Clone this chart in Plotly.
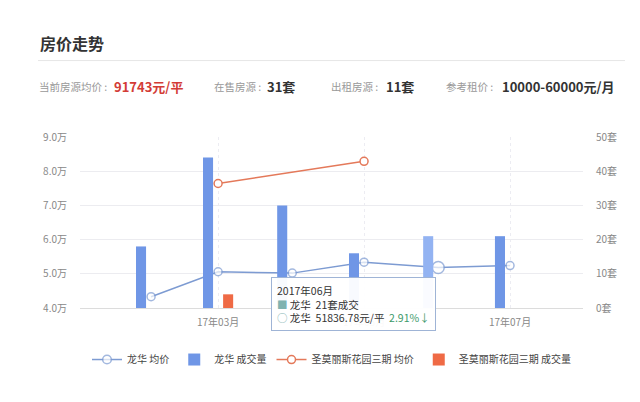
import plotly.graph_objects as go

# ---- data ----
months = ["2017-02-01", "2017-03-01", "2017-04-01", "2017-05-01", "2017-06-01", "2017-07-01"]
lh_price = [43300, 50600, 50200, 53390, 51836.78, 52400]
lh_volume = [18, 44, 30, 16, 21, 21]
sm_months = ["2017-03-01", "2017-05-01"]
sm_price = [76400, 82900]
sm_vol_months = ["2017-03-01"]
sm_volume = [4]

left_tickvals = [40000, 50000, 60000, 70000, 80000, 90000]
left_ticktext = ["4.0万", "5.0万", "6.0万", "7.0万", "8.0万", "9.0万"]
right_tickvals = [0, 10, 20, 30, 40, 50]
right_ticktext = ["0套", "10套", "20套", "30套", "40套", "50套"]
x_tickvals = ["2017-03-01", "2017-05-01", "2017-07-01"]
x_ticktext = ["17年03月", "17年05月", "17年07月"]

FONT = "Noto Sans CJK SC"
OFF = 8  # browser body margin
W, H = 640 - OFF, 402 - OFF
# plot area in screen pixels
L, R, T, B = 80, 583, 136.7, 308.3
PW, PH = R - L, B - T

def px(x):
    return (x - L) / PW

def py(y):
    return (B - y) / PH

DAY = 86400000
fig = go.Figure()

bar_colors = ["#6f96e6"] * len(lh_volume)
bar_colors[4] = "#93b3f2"
fig.add_trace(go.Bar(
    x=months, y=lh_volume, name="龙华 成交量", yaxis="y2",
    marker=dict(color=bar_colors, line=dict(width=0)),
    offset=-6.3 * DAY, width=4.2 * DAY, legendrank=2,
))
fig.add_trace(go.Bar(
    x=sm_vol_months, y=sm_volume, name="圣莫丽斯花园三期 成交量", yaxis="y2",
    marker=dict(color="#ef6a45", line=dict(width=0)),
    offset=2.1 * DAY, width=4.2 * DAY, legendrank=4,
))
sizes = [8] * len(lh_price)
sizes[4] = 12
fig.add_trace(go.Scatter(
    x=months, y=lh_price, name="龙华 均价", mode="lines+markers",
    line=dict(color="#7d9bd2", width=1.5),
    marker=dict(size=sizes, color="white", line=dict(color="#7d9bd2", width=1.5)),
    legendrank=1,
))
fig.add_trace(go.Scatter(
    x=sm_months, y=sm_price, name="圣莫丽斯花园三期 均价", mode="lines+markers",
    line=dict(color="#e4795a", width=1.5),
    marker=dict(size=8, color="white", line=dict(color="#e4795a", width=1.5)),
    legendrank=3,
))

fig.update_layout(
    width=W, height=H,
    margin=dict(l=L - OFF, r=W - (R - OFF), t=T - OFF, b=H - (B - OFF), pad=0),
    paper_bgcolor="white", plot_bgcolor="white",
    font=dict(family=FONT, size=10, color="#888"),
    barmode="overlay",
    xaxis=dict(
        type="date", range=["2017-01-02 07:00", "2017-07-31 12:00"],
        tickvals=x_tickvals, ticktext=x_ticktext,
        showgrid=True, gridcolor="#ececf2", griddash="dot", gridwidth=1,
        showline=True, linecolor="#dcdcdc", ticks="", zeroline=False,
        tickfont=dict(size=10, color="#888"), ticklabelstandoff=5,
    ),
    yaxis=dict(
        range=[40000, 90000], tickvals=left_tickvals, ticktext=left_ticktext,
        showgrid=True, gridcolor="#ececf0", zeroline=False, ticks="",
        tickfont=dict(size=10, color="#888"), ticklabelstandoff=12,
    ),
    yaxis2=dict(
        range=[0, 50], tickvals=right_tickvals, ticktext=right_ticktext,
        overlaying="y", side="right", showgrid=False, zeroline=False, ticks="",
        tickfont=dict(size=10, color="#888"), ticklabelstandoff=12,
    ),
    legend=dict(
        orientation="h", x=0.5, xanchor="center", y=py(360), yanchor="middle",
        font=dict(size=10, color="#444"), itemwidth=30, traceorder="normal",
    ),
    showlegend=True,
)

ann = []
ann.append(dict(x=px(38), y=py(42), text="<b>房价走势</b>", font=dict(size=16, color="#333")))
stats = [
    (37, "当前房源均价 :", "#999", 10.5, False),
    (112, "91743元/平", "#d33c36", 13, True),
    (212, "在售房源 :", "#999", 10.5, False),
    (265, "31套", "#333", 13, True),
    (329, "出租房源 :", "#999", 10.5, False),
    (384, "11套", "#333", 13, True),
    (444, "参考租价 :", "#999", 10.5, False),
    (500, "10000-60000元/月", "#333", 13, True),
]
for x0, t, c, s, b in stats:
    ann.append(dict(x=px(x0), y=py(86), text=f"<b>{t}</b>" if b else t, font=dict(size=s, color=c)))
tip = ("2017年06月<br>"
       "<span style='color:#7fb3b0'>■</span> 龙华  21套成交<br>"
       "<span style='color:#7fb3b0'>○</span> 龙华  51836.78元/平  "
       "<span style='color:#3c9a6a'>2.91%↓</span>")
ann.append(dict(x=px(271), y=py(277), yanchor="top", text=tip, align="left",
                font=dict(size=10.5, color="#333"), bgcolor="rgba(255,255,255,0.95)",
                bordercolor="#9fb4d6", borderwidth=1, borderpad=5))
for a in ann:
    a.setdefault("xanchor", "left")
    a.setdefault("yanchor", "middle")
    a.update(xref="paper", yref="paper", showarrow=False)
fig.update_layout(annotations=ann)
fig.add_shape(type="line", xref="paper", yref="paper", x0=px(38), x1=px(625), y0=py(60), y1=py(60),
              line=dict(color="#e6e6e6", width=1))

fig.write_html("out.html")
